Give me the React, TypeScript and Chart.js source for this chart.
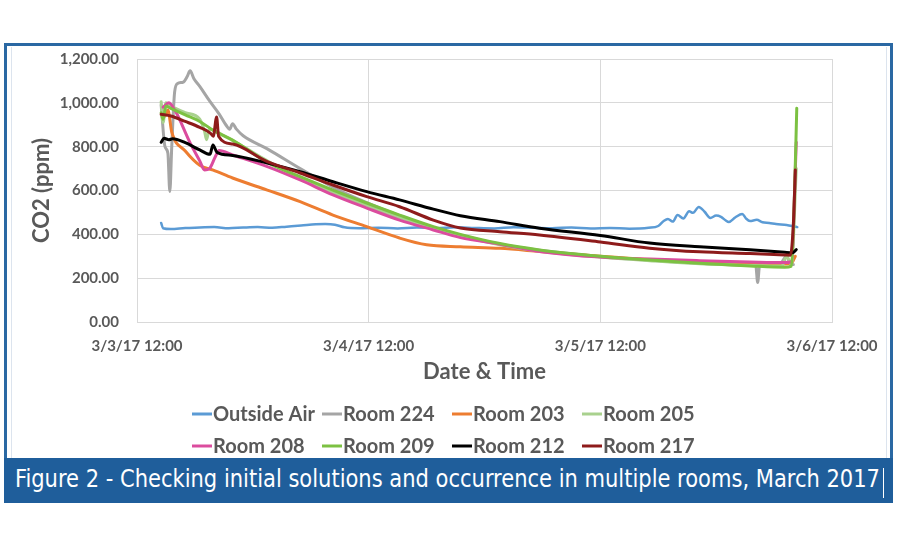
import React, { useEffect, useLayoutEffect, useRef } from "react";
import { Chart, registerables } from "chart.js";

Chart.register(...registerables);

// ---- Data (hours after 3/3/17 12:00, CO2 ppm) ----
const seriesNames = [
  "Outside Air", "Room 224", "Room 203", "Room 205",
  "Room 208", "Room 209", "Room 212", "Room 217",
];
const seriesColors = [
  "#5B9BD5", "#A5A5A5", "#ED7D31", "#A9D18E",
  "#DB4C9E", "#7CC142", "#000000", "#8E1B1B",
];
const xTickLabels = ["3/3/17 12:00", "3/4/17 12:00", "3/5/17 12:00", "3/6/17 12:00"];
const xTickHours = [0, 24, 48, 72];
const yTicks = [0, 200, 400, 600, 800, 1000, 1200];

const airHours = [2.5, 2.7, 3.5, 5, 6.5, 8, 9.5, 11, 12.5, 14, 15.5, 17, 18.5, 19.5, 20.5, 21.5, 23, 25, 27, 29, 31, 33, 35, 37, 39, 41, 43, 45, 47, 49, 51, 53, 54, 54.6, 55, 55.5, 56, 56.6, 57.2, 57.6, 58.2, 58.8, 59.4, 60, 60.5, 61, 61.3, 62, 62.7, 63.1, 63.5, 64.2, 64.8, 65.5, 66.2, 67.3, 68, 68.4];
const airCO2 = [452, 428, 424, 429, 431, 433, 428, 431, 433, 430, 435, 440, 446, 447, 444, 432, 428, 430, 427, 431, 428, 432, 429, 427, 432, 430, 428, 431, 427, 429, 426, 430, 438, 462, 470, 458, 488, 472, 505, 498, 525, 503, 475, 486, 480, 463, 456, 478, 493, 472, 461, 466, 455, 452, 447, 443, 437, 433];

const r224Hours = [2.5, 2.9, 3.2, 3.4, 3.6, 3.9, 4.2, 4.8, 5.2, 5.5, 5.9, 6.5, 7.5, 8.5, 9.2, 9.6, 9.9, 10.3, 11, 13.5, 16.9, 20.3, 23.8, 27.2, 30.7, 33.5, 37.6, 41.7, 48, 53, 58.3, 63.3, 64.1, 64.3, 64.5, 66.5, 67.3, 67.7, 68.0];
const r224CO2 = [990, 800, 770, 595, 800, 1050, 1088, 1095, 1120, 1146, 1110, 1075, 1010, 950, 900, 880, 905, 880, 850, 790, 700, 615, 545, 485, 432, 396, 355, 327, 298, 282, 268, 260, 258, 180, 258, 258, 300, 262, 262];

const r203Hours = [2.9, 3.2, 3.6, 5.0, 6.5, 7.9, 9.9, 13.5, 16.9, 20.3, 23.8, 27.2, 30.0, 33.5, 37.6, 41.7, 48, 53.1, 58.3, 63.5, 67.1, 67.8, 68.2];
const r203CO2 = [940, 967, 867, 780, 715, 693, 657, 602, 549, 488, 435, 383, 352, 343, 336, 322, 300, 285, 275, 268, 265, 268, 300];

const r205Hours = [2.5, 2.7, 3.0, 3.5, 5, 6.5, 7.0, 7.2, 7.5, 9, 11, 13.5, 16.9, 20.3, 23.8, 27.2, 30.7, 33.5, 37.6, 41.7, 48, 53.1, 58.3, 63.5, 66.8, 67.3, 67.8, 68.3];
const r205CO2 = [1005, 910, 1000, 985, 955, 925, 870, 832, 880, 850, 800, 735, 655, 592, 532, 477, 428, 393, 352, 323, 296, 280, 266, 258, 255, 300, 262, 700];

const r208Hours = [2.7, 3.3, 4.0, 5.5, 6.5, 7.0, 7.5, 8.1, 8.5, 9.9, 13.5, 16.9, 20.3, 23.8, 27.2, 30.7, 33.5, 37.6, 41.7, 48, 53.1, 58.3, 63.5, 67.1, 67.8, 68.3];
const r208CO2 = [980, 1000, 960, 817, 735, 694, 700, 753, 782, 762, 709, 648, 580, 520, 465, 420, 385, 355, 322, 296, 287, 280, 274, 271, 275, 820];

const r209Hours = [2.5, 2.7, 3.0, 3.5, 5, 6.5, 8, 9.9, 11.5, 13.5, 16.9, 20.3, 23.8, 27.2, 30.7, 33.5, 37.6, 41.7, 48, 53.1, 58.3, 63.5, 67.1, 67.8, 68.1, 68.35];
const r209CO2 = [955, 925, 985, 975, 945, 915, 872, 830, 785, 728, 663, 602, 543, 488, 435, 400, 358, 329, 300, 283, 268, 256, 250, 255, 560, 975];

const r212Hours = [2.5, 2.8, 3.3, 3.7, 5, 6.5, 7.56, 7.87, 8.29, 9.9, 13.5, 16.9, 20.3, 23.8, 27.2, 30.7, 33.5, 37.6, 41.7, 48, 53.1, 58.3, 63.5, 67.1, 67.9, 68.3];
const r212CO2 = [820, 838, 832, 836, 818, 785, 765, 808, 774, 760, 725, 686, 640, 595, 557, 515, 485, 458, 428, 395, 360, 343, 330, 318, 316, 330];

const r217Hours = [2.5, 3.5, 5, 6.5, 7.6, 7.9, 8.25, 8.45, 9.9, 13.5, 16.9, 20.3, 23.8, 27.2, 30.7, 33.5, 37.6, 41.7, 48, 53.1, 58.3, 63.5, 67.1, 67.7, 68.0, 68.2];
const r217CO2 = [948, 940, 915, 888, 862, 848, 935, 848, 812, 732, 680, 625, 572, 526, 465, 429, 412, 397, 365, 337, 320, 312, 306, 305, 450, 693];

const allHours = [airHours, r224Hours, r203Hours, r205Hours, r208Hours, r209Hours, r212Hours, r217Hours];
const allValues = [airCO2, r224CO2, r203CO2, r205CO2, r208CO2, r209CO2, r212CO2, r217CO2];

const captionText = "Figure 2 - Checking initial solutions and occurrence in multiple rooms, March 2017";

const TEXT = "#595959";
const GRID = "#D9D9D9";
const FONT = "Lato, 'Liberation Sans', sans-serif";

const gridLegend = {
  id: "gridLegend",
  afterDraw(chart: any) {
    const ctx = chart.ctx as CanvasRenderingContext2D;
    const cols = [192, 322, 452, 582];
    const rows = [414, 446];
    ctx.save();
    ctx.font = `bold 20px ${FONT}`;
    ctx.textBaseline = "middle";
    ctx.textAlign = "left";
    chart.data.datasets.forEach((ds: any, i: number) => {
      const x = cols[i % 4];
      const y = rows[Math.floor(i / 4)];
      ctx.strokeStyle = ds.borderColor;
      ctx.lineWidth = 3;
      ctx.beginPath();
      ctx.moveTo(x, y);
      ctx.lineTo(x + 20, y);
      ctx.stroke();
      ctx.fillStyle = TEXT;
      ctx.fillText(ds.label, x + 21, y + 1);
    });
    ctx.restore();
  },
};

export default function App() {
  const canvasRef = useRef<HTMLCanvasElement>(null);
  const capRef = useRef<HTMLSpanElement>(null);

  useLayoutEffect(() => {
    const el = capRef.current;
    if (!el) return;
    const w = el.getBoundingClientRect().width;
    if (w > 0) el.style.transform = `scaleX(${865 / w})`;
  }, []);

  useEffect(() => {
    const canvas = canvasRef.current;
    if (!canvas) return;
    const datasets = seriesNames.map((name, i) => ({
      label: name,
      data: allHours[i].map((h, j) => ({ x: h, y: allValues[i][j] })),
      borderColor: seriesColors[i],
      backgroundColor: seriesColors[i],
      borderWidth: i === 0 ? 2.5 : 3,
      borderJoinStyle: "round",
      borderCapStyle: "round",
      pointRadius: 0,
      cubicInterpolationMode: "monotone",
      order: seriesNames.length - i,
    }));
    const chart = new Chart(canvas, {
      type: "line",
      data: { datasets },
      plugins: [gridLegend],
      options: {
        animation: false,
        responsive: false,
        parsing: false as any,
        layout: { padding: { left: 12, top: 59, right: 68, bottom: 165 } },
        plugins: { legend: { display: false }, tooltip: { enabled: false } },
        scales: {
          x: {
            type: "linear",
            min: xTickHours[0],
            max: xTickHours[xTickHours.length - 1],
            afterBuildTicks: (s: any) => {
              s.ticks = xTickHours.map((v) => ({ value: v }));
            },
            afterFit: (s: any) => {
              s.height = 63;
            },
            ticks: {
              autoSkip: false,
              maxRotation: 0,
              padding: 15,
              color: TEXT,
              font: { family: FONT, size: 15, weight: "bold" },
              callback: (v: any) => {
                const idx = xTickHours.indexOf(Number(v));
                return idx >= 0 ? xTickLabels[idx] : "";
              },
            },
            grid: { color: GRID, drawTicks: false, lineWidth: 1 },
            border: { color: GRID },
            title: {
              display: true,
              text: "Date & Time",
              color: TEXT,
              font: { family: FONT, size: 22, weight: "bold" },
              padding: { top: 0, bottom: 0 },
            },
          },
          y: {
            type: "linear",
            min: yTicks[0],
            max: yTicks[yTicks.length - 1],
            afterBuildTicks: (s: any) => {
              s.ticks = yTicks.map((v) => ({ value: v }));
            },
            afterFit: (s: any) => {
              s.width = 125;
            },
            ticks: {
              padding: 18,
              color: TEXT,
              font: { family: FONT, size: 15, weight: "bold" },
              callback: (v: any) =>
                Number(v).toLocaleString("en-US", { minimumFractionDigits: 2, maximumFractionDigits: 2 }),
            },
            grid: { color: GRID, drawTicks: false, lineWidth: 1 },
            border: { color: GRID },
            title: {
              display: true,
              text: "CO2 (ppm)",
              color: TEXT,
              font: { family: FONT, size: 22, weight: "bold" },
              padding: { top: 17, bottom: 0 },
            },
          },
        },
      } as any,
    });
    return () => chart.destroy();
  }, []);

  return (
    <div style={{ position: "absolute", left: 0, top: 0, width: 900, height: 550, background: "#ffffff", overflow: "hidden" }}>
      <div style={{ position: "absolute", left: 4, top: 43, width: 889, height: 460, boxSizing: "border-box", border: "3px solid #2A68A3" }} />
      <div style={{ position: "absolute", left: 11, top: 47, width: 1, height: 411, background: "#DCE4EE" }} />
      <div style={{ position: "absolute", left: 886, top: 47, width: 1, height: 411, background: "#DCE4EE" }} />
      <div style={{ position: "absolute", left: 4, top: 458, width: 889, height: 45, background: "#1F5E9B" }}>
        <span
          ref={capRef}
          style={{
            position: "absolute",
            left: 11,
            top: 6,
            whiteSpace: "nowrap",
            transformOrigin: "0 0",
            color: "#ffffff",
            fontFamily: "'Liberation Sans Narrow', 'DejaVu Sans Condensed', 'Liberation Sans', sans-serif",
            fontSize: 25,
            lineHeight: "30px",
          }}
        >
          {captionText}
        </span>
        <div style={{ position: "absolute", left: 879, top: 10, width: 1, height: 30, background: "#ffffff" }} />
      </div>
      <canvas ref={canvasRef} width={900} height={550} style={{ position: "absolute", left: 0, top: 0 }} />
    </div>
  );
}
